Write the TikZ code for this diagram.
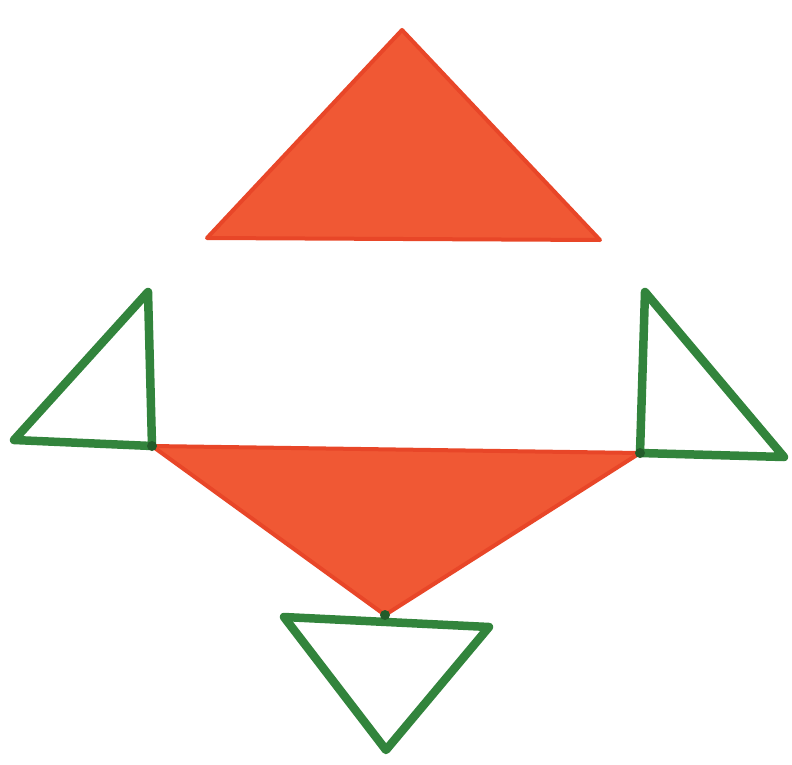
\documentclass[tikz,border=0pt]{standalone}
\usepackage{tikz}
\definecolor{marker}{RGB}{240,88,52}
\definecolor{markerdk}{RGB}{232,70,40}
\definecolor{leaf}{RGB}{50,132,60}
\tikzset{redtri/.style={fill=marker,draw=markerdk,line width=4pt,line join=round},greentri/.style={draw=leaf,line width=8.5pt,line join=round,line cap=round}}

\begin{document}
\begin{tikzpicture}[x=1pt,y=-1pt]
\useasboundingbox(0,0)rectangle(792,765);
\coordinate(a)at(402,30);\coordinate(b)at(207,238);\coordinate(c)at(600,240);
\coordinate(l)at(152,446);\coordinate(r)at(640,453);\coordinate(m)at(385,615);
\draw[redtri](a)--(c)--(b)--cycle;
\draw[redtri](l)--(r)--(m)--cycle;
\draw[greentri](148,292)--(l)--(14,440)--cycle;
\draw[greentri](645,292)--(r)--(784,457)--cycle;
\draw[greentri](284,617)--(489,627)--(386,750)--cycle;
\fill[leaf!70!black](l)circle(5)(r)circle(5)(m)circle(5);
\end{tikzpicture}
\end{document}
